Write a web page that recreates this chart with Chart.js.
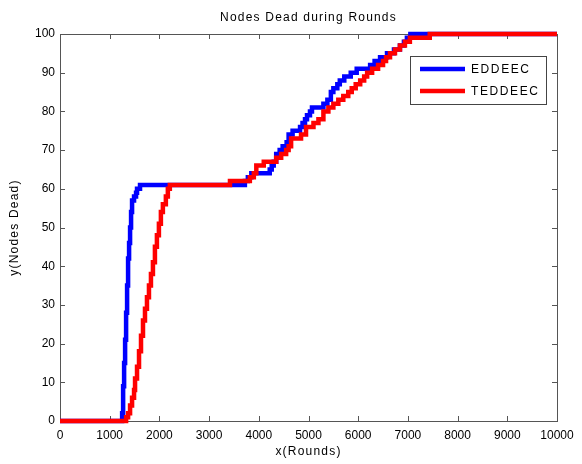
<!DOCTYPE html>
<html>
<head>
<meta charset="utf-8">
<script src="https://cdn.jsdelivr.net/npm/chart.js@4/dist/chart.umd.min.js"></script>
<style>
  html, body { margin: 0; padding: 0; background: #fff; }
  #wrap { width: 582px; height: 464px; }
</style>
</head>
<body>
<div id="wrap"><canvas id="chart" width="582" height="464"></canvas></div>
<script>
// ---- data (rounds at which the dead-node count steps up) ----
const chartTitle = 'Nodes Dead during Rounds';
const xTitle = 'x(Rounds)';
const yTitle = 'y(Nodes Dead)';
const seriesNames = ['EDDEEC', 'TEDDEEC'];

const roundsEDDEEC = [0, 1250, 1270, 1290, 1310, 1330, 1350, 1370, 1390, 1410, 1430, 1450, 1490, 1530, 1550, 1610,
  3720, 3780, 3850, 4220, 4260, 4300, 4350, 4420, 4480, 4560, 4600, 4680, 4830, 4880, 4930, 4970, 5030, 5070,
  5300, 5380, 5450, 5500, 5580, 5630, 5720, 5850, 5970, 6240, 6330, 6440, 6580, 6720, 6840, 6920, 6980, 7050, 10000];
const deadEDDEEC = [0, 2, 9, 15, 21, 28, 35, 42, 46, 50, 54, 57, 58, 59, 60, 61,
  62, 63, 64, 65, 66, 67, 69, 70, 71, 72, 74, 75, 76, 77, 78, 79, 80, 81,
  82, 83, 85, 86, 87, 88, 89, 90, 91, 92, 93, 94, 95, 96, 97, 98, 99, 100, 100];

const roundsTEDDEEC = [0, 1330, 1370, 1410, 1450, 1490, 1510, 1550, 1590, 1630, 1670, 1710, 1750, 1790, 1830, 1870,
  1910, 1950, 1990, 2030, 2070, 2130, 2170, 2210, 3420, 3820, 3900, 3950, 4100, 4350, 4450, 4550, 4600, 4650,
  4850, 4950, 5100, 5200, 5300, 5400, 5500, 5600, 5700, 5800, 5870, 5950, 6040, 6120, 6180, 6280, 6400, 6500,
  6560, 6640, 6740, 6840, 6940, 7040, 7440, 10000];
const deadTEDDEEC = [0, 1, 2, 4, 6, 8, 11, 14, 18, 22, 26, 29, 32, 35, 38, 41,
  45, 48, 51, 54, 56, 58, 60, 61, 62, 63, 64, 66, 67, 68, 69, 70, 71, 73,
  74, 76, 77, 78, 80, 81, 82, 83, 84, 85, 86, 87, 88, 89, 90, 91, 92, 93,
  94, 95, 96, 97, 98, 99, 100, 100];

const xTicks = [0, 1000, 2000, 3000, 4000, 5000, 6000, 7000, 8000, 9000, 10000];
const yTicks = [0, 10, 20, 30, 40, 50, 60, 70, 80, 90, 100];

// ---------------------------------------------------------------------------
const FONT = "'Liberation Sans', Arial, Helvetica, sans-serif";
const AXIS_COLOR = '#555';

function toPoints(xs, ys){
  return xs.map((x, i) => ({ x: x, y: ys[i] }));
}

// box + inward ticks on all four sides, MATLAB style
const framePlugin = {
  id: 'frame',
  beforeDatasetsDraw(chart){
    const { ctx, chartArea: a, scales } = chart;
    ctx.save();
    ctx.strokeStyle = AXIS_COLOR;
    ctx.lineWidth = 1;
    ctx.strokeRect(Math.round(a.left) + 0.5, Math.round(a.top) + 0.5,
      Math.round(a.right - a.left), Math.round(a.bottom - a.top));
    ctx.beginPath();
    const len = 5;
    xTicks.forEach(v => {
      const px = Math.round(scales.x.getPixelForValue(v)) + 0.5;
      ctx.moveTo(px, a.bottom); ctx.lineTo(px, a.bottom - len);
      ctx.moveTo(px, a.top); ctx.lineTo(px, a.top + len);
    });
    yTicks.forEach(v => {
      const py = Math.round(scales.y.getPixelForValue(v)) + 0.5;
      ctx.moveTo(a.left, py); ctx.lineTo(a.left + len, py);
      ctx.moveTo(a.right, py); ctx.lineTo(a.right - len, py);
    });
    ctx.stroke();
    ctx.restore();
  },
  afterDraw(chart){
    const { ctx, chartArea: a } = chart;
    ctx.save();
    ctx.fillStyle = '#000';
    ctx.font = '12px ' + FONT;
    ctx.letterSpacing = '1.2px';
    ctx.textAlign = 'center';
    ctx.textBaseline = 'middle';
    const cx = (a.left + a.right) / 2;
    ctx.fillText(chartTitle, cx, 18);
    ctx.fillText(xTitle, cx, 452);
    ctx.save();
    ctx.translate(15, (a.top + a.bottom) / 2);
    ctx.rotate(-Math.PI / 2);
    ctx.fillText(yTitle, 0, 0);
    ctx.restore();

    // legend box
    const bx = 410.5, by = 56.5, bw = 136, bh = 48;
    ctx.fillStyle = '#fff';
    ctx.fillRect(bx, by, bw, bh);
    ctx.strokeStyle = '#444';
    ctx.lineWidth = 1;
    ctx.strokeRect(bx, by, bw, bh);
    ctx.textAlign = 'left';
    ctx.letterSpacing = '1.6px';
    chart.data.datasets.forEach((ds, i) => {
      const y = 69 + i * 22;
      ctx.strokeStyle = ds.borderColor;
      ctx.lineWidth = 4.5;
      ctx.beginPath();
      ctx.moveTo(420, y); ctx.lineTo(465, y);
      ctx.stroke();
      ctx.fillStyle = '#000';
      ctx.fillText(ds.label, 471, y + 1);
    });
    ctx.restore();
  }
};

const chart = new Chart(document.getElementById('chart'), {
  type: 'line',
  data: {
    datasets: [
      {
        label: seriesNames[0],
        data: toPoints(roundsEDDEEC, deadEDDEEC),
        borderColor: '#0000ff',
        backgroundColor: '#0000ff',
        borderWidth: 4.5,
        pointRadius: 0,
        stepped: true,
        fill: false,
        clip: false,
        order: 2
      },
      {
        label: seriesNames[1],
        data: toPoints(roundsTEDDEEC, deadTEDDEEC),
        borderColor: '#ff0000',
        backgroundColor: '#ff0000',
        borderWidth: 4.5,
        pointRadius: 0,
        stepped: true,
        fill: false,
        clip: false,
        order: 1
      }
    ]
  },
  options: {
    responsive: false,
    animation: false,
    devicePixelRatio: 1,
    layout: { padding: { top: 34, right: 25, left: 0, bottom: 0 } },
    plugins: {
      legend: { display: false },
      title: { display: false },
      tooltip: { enabled: false }
    },
    scales: {
      x: {
        type: 'linear',
        min: 0, max: 10000,
        afterBuildTicks: s => { s.ticks = xTicks.map(v => ({ value: v })); },
        afterFit: s => { s.height = 43; },
        grid: { display: false, drawTicks: false },
        border: { display: false },
        ticks: { color: '#000', font: { family: FONT, size: 12 }, padding: 7, maxRotation: 0,
          callback: v => String(v) }
      },
      y: {
        type: 'linear',
        min: 0, max: 100,
        afterBuildTicks: s => { s.ticks = yTicks.map(v => ({ value: v })); },
        afterFit: s => { s.width = 60; },
        grid: { display: false, drawTicks: false },
        border: { display: false },
        ticks: { color: '#000', font: { family: FONT, size: 12 }, padding: 5,
          callback: v => String(v) }
      }
    }
  },
  plugins: [framePlugin]
});
</script>
</body>
</html>
